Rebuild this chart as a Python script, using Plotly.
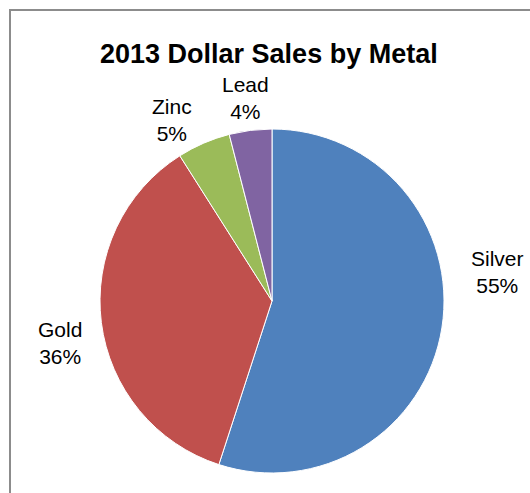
import plotly.graph_objects as go

categories = ["Silver", "Gold", "Zinc", "Lead"]
values = [55, 36, 5, 4]
colors = ["#4F81BD", "#C0504D", "#9BBB59", "#8064A2"]
title_text = "2013 Dollar Sales by Metal"

W, H = 530, 493

# label centres in pixels (x, y from top)
label_pos = [(497, 272), (60, 343), (172, 120), (245, 98)]

total = sum(values)
fig = go.Figure(go.Pie(
    labels=categories,
    values=values,
    sort=False,
    direction="clockwise",
    rotation=0,
    marker=dict(colors=colors, line=dict(color="white", width=1)),
    textinfo="none",
    hoverinfo="label+percent",
    showlegend=False,
    domain=dict(x=[100 / W, 444 / W], y=[1 - 473 / H, 1 - 129 / H]),
))

annotations = []
for cat, val, (px, py) in zip(categories, values, label_pos):
    annotations.append(dict(
        x=px / W, y=1 - py / H, xref="paper", yref="paper",
        text=f"{cat}<br>{round(val / total * 100)}%",
        showarrow=False, xanchor="center", yanchor="middle",
        font=dict(family="Liberation Sans, Arial", size=21, color="#000000"),
        align="center",
    ))
annotations.append(dict(
    x=269 / W, y=1 - 54 / H, xref="paper", yref="paper",
    text=f"<b>{title_text}</b>", showarrow=False,
    xanchor="center", yanchor="middle",
    font=dict(family="Liberation Sans, Arial", size=27, color="#000000"),
))

fig.update_layout(
    width=W, height=H,
    margin=dict(l=0, r=0, t=0, b=0),
    paper_bgcolor="white",
    plot_bgcolor="white",
    annotations=annotations,
    shapes=[dict(
        type="rect", xref="paper", yref="paper",
        x0=10 / W, x1=1.2, y0=-0.2, y1=1 - 10 / H,
        line=dict(color="#8C8C8C", width=2), fillcolor="rgba(0,0,0,0)",
        layer="below",
    )],
)

fig.write_html("out.html")
